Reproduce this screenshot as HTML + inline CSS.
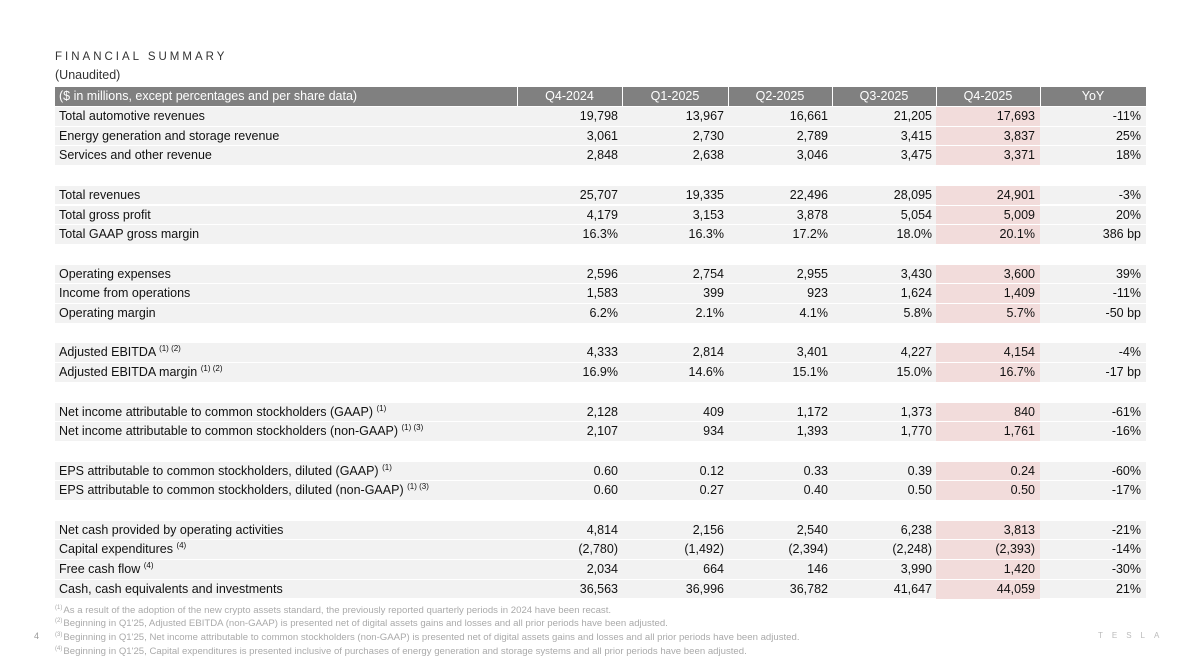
<!DOCTYPE html>
<html><head><meta charset="utf-8"><style>
body{margin:0;width:1200px;height:665px;background:#fff;font-family:"Liberation Sans",sans-serif;position:relative;overflow:hidden}
.t{position:absolute;left:55px;font-size:11.5px;letter-spacing:3px;color:#333;top:51px}
.u{position:absolute;left:55px;top:68px;font-size:12.5px;color:#333}
.r{position:absolute;left:55px;width:1091px;height:19px;background:#f2f2f2;font-size:12.5px;color:#111}
.r div{position:absolute;top:0;height:19px;line-height:19px;white-space:nowrap}
.h{background:#808080;color:#fff}
.c0{left:4px}
.c1{left:462px;width:101px;text-align:right}
.c2{left:567px;width:102px;text-align:right}
.c3{left:673px;width:100px;text-align:right}
.c4{left:777px;width:100px;text-align:right}
.c5{left:881px;width:99px;text-align:right}
.c6{left:985px;width:101px;text-align:right}
.pk{position:absolute;left:881px;top:0;width:104px;height:19px;background:#f2dcdb}
.h .c1,.h .c2,.h .c3,.h .c4,.h .c5,.h .c6{text-align:center}
.vl{position:absolute;top:0;width:1px;height:19px;background:#fff}
sup{font-size:8px;vertical-align:5px;line-height:0}
.f{position:absolute;left:55px;font-size:9.6px;color:#aaa;white-space:nowrap;line-height:12px}
.f sup{font-size:6px;vertical-align:4px;margin-right:1px}
</style></head><body>
<div class="t">FINANCIAL SUMMARY</div>
<div class="u">(Unaudited)</div>
<div class="r h" style="top:87px"><div class="c0" style="text-align:left">($ in millions, except percentages and per share data)</div><div class="c1" style="left:462px;width:105px">Q4-2024</div><div class="c2" style="width:106px">Q1-2025</div><div class="c3" style="width:104px">Q2-2025</div><div class="c4" style="width:104px">Q3-2025</div><div class="c5" style="width:104px">Q4-2025</div><div class="c6" style="width:106px">YoY</div><span class="vl" style="left:462px"></span><span class="vl" style="left:567px"></span><span class="vl" style="left:673px"></span><span class="vl" style="left:777px"></span><span class="vl" style="left:881px"></span><span class="vl" style="left:985px"></span></div>
<div id="rows"></div>
<div class="f" style="top:605px"><sup>(1)</sup>As a result of the adoption of the new crypto assets standard, the previously reported quarterly periods in 2024 have been recast.</div>
<div class="f" style="top:618px"><sup>(2)</sup>Beginning in Q1'25, Adjusted EBITDA (non-GAAP) is presented net of digital assets gains and losses and all prior periods have been adjusted.</div>
<div class="f" style="top:632px"><sup>(3)</sup>Beginning in Q1'25, Net income attributable to common stockholders (non-GAAP) is presented net of digital assets gains and losses and all prior periods have been adjusted.</div>
<div class="f" style="top:646px"><sup>(4)</sup>Beginning in Q1'25, Capital expenditures is presented inclusive of purchases of energy generation and storage systems and all prior periods have been adjusted.</div>
<div style="position:absolute;left:34px;top:631px;font-size:9px;color:#999">4</div>
<div style="position:absolute;left:1098px;top:631px;font-size:8px;letter-spacing:9px;color:#bbb">TESLA</div>
<script>
var d=[
["Total automotive revenues","19,798","13,967","16,661","21,205","17,693","-11%"],
["Energy generation and storage revenue","3,061","2,730","2,789","3,415","3,837","25%"],
["Services and other revenue","2,848","2,638","3,046","3,475","3,371","18%"],null,
["Total revenues","25,707","19,335","22,496","28,095","24,901","-3%"],
["Total gross profit","4,179","3,153","3,878","5,054","5,009","20%"],
["Total GAAP gross margin","16.3%","16.3%","17.2%","18.0%","20.1%","386 bp"],null,
["Operating expenses","2,596","2,754","2,955","3,430","3,600","39%"],
["Income from operations","1,583","399","923","1,624","1,409","-11%"],
["Operating margin","6.2%","2.1%","4.1%","5.8%","5.7%","-50 bp"],null,
["Adjusted EBITDA <sup>(1) (2)</sup>","4,333","2,814","3,401","4,227","4,154","-4%"],
["Adjusted EBITDA margin <sup>(1) (2)</sup>","16.9%","14.6%","15.1%","15.0%","16.7%","-17 bp"],null,
["Net income attributable to common stockholders (GAAP) <sup>(1)</sup>","2,128","409","1,172","1,373","840","-61%"],
["Net income attributable to common stockholders (non-GAAP) <sup>(1) (3)</sup>","2,107","934","1,393","1,770","1,761","-16%"],null,
["EPS attributable to common stockholders, diluted (GAAP) <sup>(1)</sup>","0.60","0.12","0.33","0.39","0.24","-60%"],
["EPS attributable to common stockholders, diluted (non-GAAP) <sup>(1) (3)</sup>","0.60","0.27","0.40","0.50","0.50","-17%"],null,
["Net cash provided by operating activities","4,814","2,156","2,540","6,238","3,813","-21%"],
["Capital expenditures <sup>(4)</sup>","(2,780)","(1,492)","(2,394)","(2,248)","(2,393)","-14%"],
["Free cash flow <sup>(4)</sup>","2,034","664","146","3,990","1,420","-30%"],
["Cash, cash equivalents and investments","36,563","36,996","36,782","41,647","44,059","21%"]];
var h="";
d.forEach(function(r,i){if(!r)return;var top=106+19.7*i;
h+='<div class="r" style="top:'+top.toFixed(1)+'px;border-top:1px solid #fff;height:18.7px"><span class="pk"></span><div class="c0">'+r[0]+'</div>';
for(var k=1;k<7;k++)h+='<div class="c'+k+'">'+r[k]+'</div>';h+='</div>';});
document.getElementById('rows').innerHTML=h;
</script>
</body></html>
